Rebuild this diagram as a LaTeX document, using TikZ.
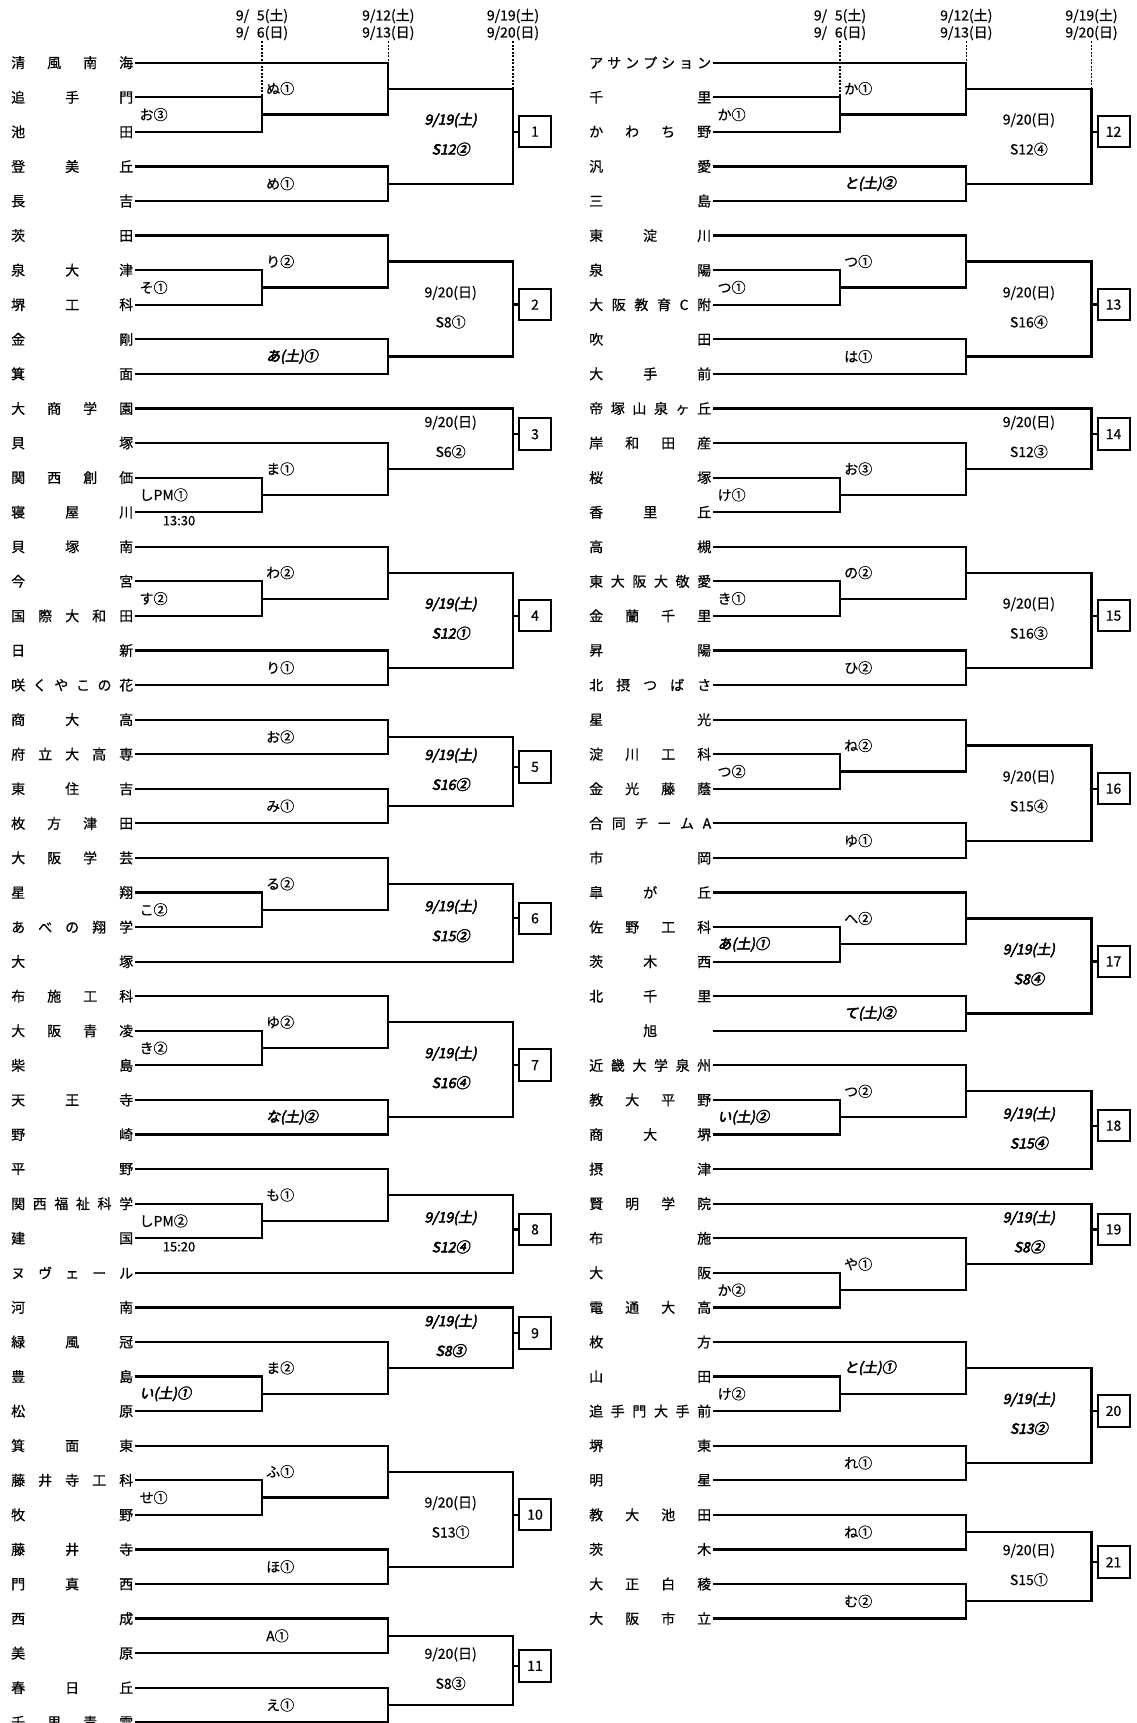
\documentclass[tikz,border=0pt]{standalone}
\usepackage{fontspec}
\setmainfont{Noto Sans CJK JP}[FakeBold=0.5]
\newfontfamily\bifont[FakeBold=3.5,FakeSlant=0.2]{Noto Sans CJK JP}
\usetikzlibrary{calc}

\newcommand\tfont{\fontsize{14}{17}\selectfont}
% spread the letters of a school name over its column
\def\sprd#1{\sprdi#1\relax}
\def\sprdi#1{#1\sprdii}
\def\sprdii#1{\ifx#1\relax\else\hfill#1\expandafter\sprdii\fi}

\tikzset{
    bline/.style={line width=2.2pt},
    dotline/.style={line width=1.5pt, dash pattern=on 2pt off 1.5pt},
    team/.style={anchor=east, inner xsep=2pt, inner ysep=0pt},
    tag/.style={anchor=west, xshift=4pt, inner sep=0pt},
    day/.style={inner sep=0pt},
    hot/.style={font=\tfont\bifont},
    cool/.style={},
    head/.style={align=center, inner sep=1pt},
    clock/.style={inner sep=0pt, font=\fontsize{13}{15}\selectfont},
    numbox/.style={draw, line width=2pt, minimum width=32pt, minimum height=31.5pt, anchor=west, inner sep=0pt}
}

% a match: lines from two entries to a column, winner point, label
\newcommand\game[6]{%
    \draw[bline] (#1) -- (#1 -| #3) -- (#2 -| #3) -- (#2);
    \coordinate (#5) at ($(#1 -| #3)!.5!(#2 -| #3)$);
    \node[tag] at (#5 -| #4) {#6};
}
% last match of a block with its date, court and number box
\newcommand\final[7]{%
    \draw[bline] (#2) -- (#2 -| x#13) -- (#3 -| x#13) -- (#3);
    \coordinate (m#1#4) at ($(#2 -| x#13)!.5!(#3 -| x#13)$);
    \coordinate (d#1#4) at ($(m#1#4 -| x#12)!.5!(m#1#4)$);
    \node[day, #7, yshift=16pt] at (d#1#4) {#5};
    \node[day, #7, yshift=-13pt] at (d#1#4) {#6};
    \node[numbox] (b#1#4) at ([xshift=5pt, yshift=4.5pt]m#1#4) {#4};
    \draw[bline] (b#1#4.west) -- (b#1#4.west -| x#13);
}

\begin{document}
\begin{tikzpicture}[x=1pt, y=-1pt, font=\tfont]
    \useasboundingbox (0,0) rectangle (1137,1723);
    \clip (0,0) rectangle (1137,1723);
    \fill[white] (0,0) rectangle (1137,1723);

    \coordinate (xL0) at (135.4,0);
    \coordinate (xL1) at (262,0);
    \coordinate (xL2) at (388.3,0);
    \coordinate (xL3) at (513,0);
    \coordinate (xR0) at (713.4,0);
    \coordinate (xR1) at (840,0);
    \coordinate (xR2) at (966.3,0);
    \coordinate (xR3) at (1091.5,0);

    % schools
    \foreach \nm [count=\k from 0] in {清風南海,追手門,池田,登美丘,長吉,茨田,泉大津,堺工科,金剛,箕面,
        大商学園,貝塚,関西創価,寝屋川,貝塚南,今宮,国際大和田,日新,咲くやこの花,商大高,
        府立大高専,東住吉,枚方津田,大阪学芸,星翔,あべの翔学,大塚,布施工科,大阪青凌,柴島,
        天王寺,野崎,平野,関西福祉科学,建国,ヌヴェール,河南,緑風冠,豊島,松原,
        箕面東,藤井寺工科,牧野,藤井寺,門真西,西成,美原,春日丘,千里青雲} {
        \node[team] (tL\k) at (135.4, {62.7+34.575*\k})
            {\makebox[122pt][s]{\expandafter\sprd\expandafter{\nm}}};
    }
    \foreach \nm [count=\k from 0] in {アサンプション,千里,かわち野,汎愛,三島,東淀川,泉陽,大阪教育C附,吹田,大手前,
        帝塚山泉ヶ丘,岸和田産,桜塚,香里丘,高槻,東大阪大敬愛,金蘭千里,昇陽,北摂つばさ,星光,
        淀川工科,金光藤蔭,合同チームA,市岡,皐が丘,佐野工科,茨木西,北千里,{{\hfill 旭\hfill}},近畿大学泉州,
        教大平野,商大堺,摂津,賢明学院,布施,大阪,電通大高,枚方,山田,追手門大手前,
        堺東,明星,教大池田,茨木,大正白稜,大阪市立} {
        \node[team] (tR\k) at (713.4, {62.7+34.575*\k})
            {\makebox[122pt][s]{\expandafter\sprd\expandafter{\nm}}};
    }

    % left half
    \game{tL1.east}{tL2.east}{xL1}{xL0}{mL1a}{お③}
    \game{tL0.east}{mL1a}{xL2}{xL1}{mL1b}{ぬ①}
    \game{tL3.east}{tL4.east}{xL2}{xL1}{mL1c}{め①}
    \final{L}{mL1b}{mL1c}{1}{9/19(土)}{S12②}{hot}

    \game{tL6.east}{tL7.east}{xL1}{xL0}{mL2a}{そ①}
    \game{tL5.east}{mL2a}{xL2}{xL1}{mL2b}{り②}
    \game{tL8.east}{tL9.east}{xL2}{xL1}{mL2c}{\bifont あ(土)①}
    \final{L}{mL2b}{mL2c}{2}{9/20(日)}{S8①}{cool}

    \game{tL12.east}{tL13.east}{xL1}{xL0}{mL3a}{しPM①}
    \game{tL11.east}{mL3a}{xL2}{xL1}{mL3b}{ま①}
    \final{L}{tL10.east}{mL3b}{3}{9/20(日)}{S6②}{cool}
    \node[clock] at ($(tL13.east)+(43.6,8.5)$) {13:30};

    \game{tL15.east}{tL16.east}{xL1}{xL0}{mL4a}{す②}
    \game{tL14.east}{mL4a}{xL2}{xL1}{mL4b}{わ②}
    \game{tL17.east}{tL18.east}{xL2}{xL1}{mL4c}{り①}
    \final{L}{mL4b}{mL4c}{4}{9/19(土)}{S12①}{hot}

    \game{tL19.east}{tL20.east}{xL2}{xL1}{mL5a}{お②}
    \game{tL21.east}{tL22.east}{xL2}{xL1}{mL5b}{み①}
    \final{L}{mL5a}{mL5b}{5}{9/19(土)}{S16②}{hot}

    \game{tL24.east}{tL25.east}{xL1}{xL0}{mL6a}{こ②}
    \game{tL23.east}{mL6a}{xL2}{xL1}{mL6b}{る②}
    \final{L}{mL6b}{tL26.east}{6}{9/19(土)}{S15②}{hot}

    \game{tL28.east}{tL29.east}{xL1}{xL0}{mL7a}{き②}
    \game{tL27.east}{mL7a}{xL2}{xL1}{mL7b}{ゆ②}
    \game{tL30.east}{tL31.east}{xL2}{xL1}{mL7c}{\bifont な(土)②}
    \final{L}{mL7b}{mL7c}{7}{9/19(土)}{S16④}{hot}

    \game{tL33.east}{tL34.east}{xL1}{xL0}{mL8a}{しPM②}
    \game{tL32.east}{mL8a}{xL2}{xL1}{mL8b}{も①}
    \final{L}{mL8b}{tL35.east}{8}{9/19(土)}{S12④}{hot}
    \node[clock] at ($(tL34.east)+(43.6,8.5)$) {15:20};

    \game{tL38.east}{tL39.east}{xL1}{xL0}{mL9a}{\bifont い(土)①}
    \game{tL37.east}{mL9a}{xL2}{xL1}{mL9b}{ま②}
    \final{L}{tL36.east}{mL9b}{9}{9/19(土)}{S8③}{hot}

    \game{tL41.east}{tL42.east}{xL1}{xL0}{mL10a}{せ①}
    \game{tL40.east}{mL10a}{xL2}{xL1}{mL10b}{ふ①}
    \game{tL43.east}{tL44.east}{xL2}{xL1}{mL10c}{ほ①}
    \final{L}{mL10b}{mL10c}{10}{9/20(日)}{S13①}{cool}

    \game{tL45.east}{tL46.east}{xL2}{xL1}{mL11a}{A①}
    \game{tL47.east}{tL48.east}{xL2}{xL1}{mL11b}{え①}
    \final{L}{mL11a}{mL11b}{11}{9/20(日)}{S8③}{cool}

    % right half
    \game{tR1.east}{tR2.east}{xR1}{xR0}{mR12a}{か①}
    \game{tR0.east}{mR12a}{xR2}{xR1}{mR12b}{か①}
    \game{tR3.east}{tR4.east}{xR2}{xR1}{mR12c}{\bifont と(土)②}
    \final{R}{mR12b}{mR12c}{12}{9/20(日)}{S12④}{cool}

    \game{tR6.east}{tR7.east}{xR1}{xR0}{mR13a}{つ①}
    \game{tR5.east}{mR13a}{xR2}{xR1}{mR13b}{つ①}
    \game{tR8.east}{tR9.east}{xR2}{xR1}{mR13c}{は①}
    \final{R}{mR13b}{mR13c}{13}{9/20(日)}{S16④}{cool}

    \game{tR12.east}{tR13.east}{xR1}{xR0}{mR14a}{け①}
    \game{tR11.east}{mR14a}{xR2}{xR1}{mR14b}{お③}
    \final{R}{tR10.east}{mR14b}{14}{9/20(日)}{S12③}{cool}

    \game{tR15.east}{tR16.east}{xR1}{xR0}{mR15a}{き①}
    \game{tR14.east}{mR15a}{xR2}{xR1}{mR15b}{の②}
    \game{tR17.east}{tR18.east}{xR2}{xR1}{mR15c}{ひ②}
    \final{R}{mR15b}{mR15c}{15}{9/20(日)}{S16③}{cool}

    \game{tR20.east}{tR21.east}{xR1}{xR0}{mR16a}{つ②}
    \game{tR19.east}{mR16a}{xR2}{xR1}{mR16b}{ね②}
    \game{tR22.east}{tR23.east}{xR2}{xR1}{mR16c}{ゆ①}
    \final{R}{mR16b}{mR16c}{16}{9/20(日)}{S15④}{cool}

    \game{tR25.east}{tR26.east}{xR1}{xR0}{mR17a}{\bifont あ(土)①}
    \game{tR24.east}{mR17a}{xR2}{xR1}{mR17b}{へ②}
    \game{tR27.east}{tR28.east}{xR2}{xR1}{mR17c}{\bifont て(土)②}
    \final{R}{mR17b}{mR17c}{17}{9/19(土)}{S8④}{hot}

    \game{tR30.east}{tR31.east}{xR1}{xR0}{mR18a}{\bifont い(土)②}
    \game{tR29.east}{mR18a}{xR2}{xR1}{mR18b}{つ②}
    \final{R}{mR18b}{tR32.east}{18}{9/19(土)}{S15④}{hot}

    \game{tR35.east}{tR36.east}{xR1}{xR0}{mR19a}{か②}
    \game{tR34.east}{mR19a}{xR2}{xR1}{mR19b}{や①}
    \final{R}{tR33.east}{mR19b}{19}{9/19(土)}{S8②}{hot}

    \game{tR38.east}{tR39.east}{xR1}{xR0}{mR20a}{け②}
    \game{tR37.east}{mR20a}{xR2}{xR1}{mR20b}{\bifont と(土)①}
    \game{tR40.east}{tR41.east}{xR2}{xR1}{mR20c}{れ①}
    \final{R}{mR20b}{mR20c}{20}{9/19(土)}{S13②}{hot}

    \game{tR42.east}{tR43.east}{xR2}{xR1}{mR21a}{ね①}
    \game{tR44.east}{tR45.east}{xR2}{xR1}{mR21b}{む②}
    \final{R}{mR21a}{mR21b}{21}{9/20(日)}{S15①}{cool}

    % round dates
    \foreach \s in {L, R} {
        \node[head] (h\s1) at (x\s1 |- 0,24.5) {9/\hphantom{1}5(土)\\9/\hphantom{1}6(日)};
        \node[head] (h\s2) at (x\s2 |- 0,24.5) {9/12(土)\\9/13(日)};
        \node[head] (h\s3) at (x\s3 |- 0,24.5) {9/19(土)\\9/20(日)};
    }
    \draw[dotline] (hL1.south) -- (xL1 |- tL1.east);
    \draw[dotline] (hL2.south) -- (xL2 |- tL0.east);
    \draw[dotline] (hL3.south) -- (mL1b -| xL3);
    \draw[dotline] (hR1.south) -- (xR1 |- tR1.east);
    \draw[dotline] (hR2.south) -- (xR2 |- tR0.east);
    \draw[dotline] (hR3.south) -- (mR12b -| xR3);
\end{tikzpicture}
\end{document}
